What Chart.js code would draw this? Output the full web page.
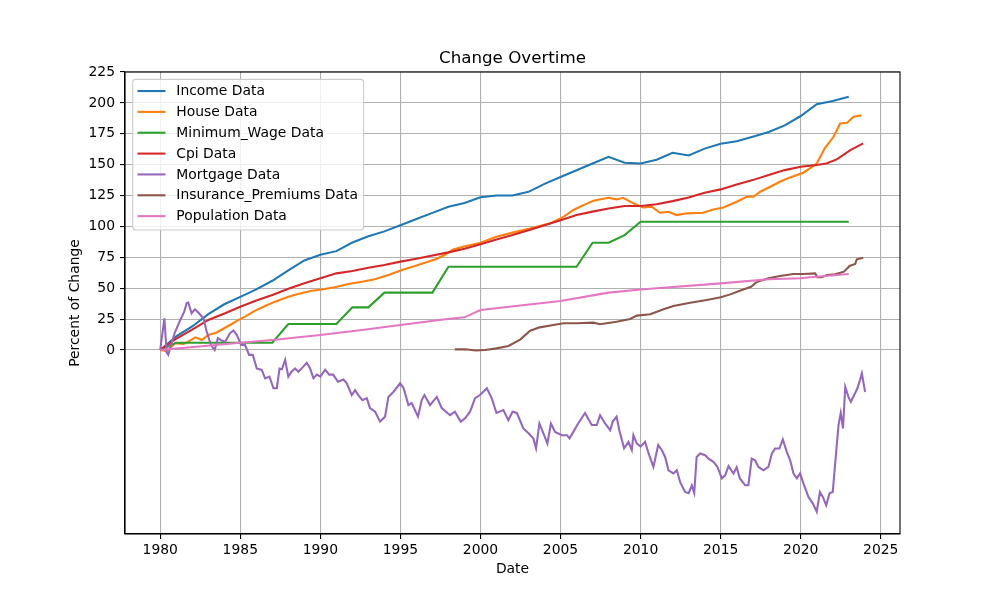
<!DOCTYPE html>
<html>
<head>
<meta charset="utf-8">
<script src="https://cdn.jsdelivr.net/npm/chart.js@4.4.1/dist/chart.umd.min.js"></script>
<style>
  html, body { margin: 0; padding: 0; background: #fff; }
</style>
</head>
<body>
<canvas id="chart" width="1000" height="600"></canvas>
<script>
const FONT = '"DejaVu Sans", "Liberation Sans", sans-serif';

const yearTicks = [1980, 1985, 1990, 1995, 2000, 2005, 2010, 2015, 2020, 2025];
const valueTicks = [0, 25, 50, 75, 100, 125, 150, 175, 200, 225];

// yearly series
const incomeYears = [1980, 1981, 1982, 1983, 1984, 1985, 1986, 1987, 1988, 1989,
  1990, 1991, 1992, 1993, 1994, 1995, 1996, 1997, 1998, 1999,
  2000, 2001, 2002, 2003, 2004, 2005, 2006, 2007, 2008, 2009,
  2010, 2011, 2012, 2013, 2014, 2015, 2016, 2017, 2018, 2019,
  2020, 2021, 2022, 2023];
const incomeValues = [0, 11, 19, 29, 37, 43, 49, 56, 64.5, 72.5,
  77, 80, 87, 92, 96, 101, 106, 111, 116, 119,
  123.6, 125, 125, 128, 134.5, 140, 145.5, 151, 156.4, 151.5,
  151, 154, 159.6, 157.5, 163, 167, 169, 172.6, 176.4, 181.8,
  189.4, 198.9, 201.5, 205];

const minWageYears = incomeYears;
const minWageValues = [0, 5.9, 5.9, 5.9, 5.9, 5.9, 5.9, 5.9, 21, 21,
  21, 21, 34.5, 34.5, 46.4, 46.4, 46.4, 46.4, 67.4, 67.4,
  67.4, 67.4, 67.4, 67.4, 67.4, 67.4, 67.4, 86.8, 86.8, 93,
  103.8, 103.8, 103.8, 103.8, 103.8, 103.8, 103.8, 103.8, 103.8, 103.8,
  103.8, 103.8, 103.8, 103.8];

const houseYears = [1980, 1980.4, 1980.93, 1981.45, 1981.76, 1982.2, 1982.6, 1983, 1983.5, 1984.05,
  1984.47, 1984.9, 1985.3, 1985.9, 1986.55, 1987.17, 1988, 1988.6, 1989.46, 1990.08,
  1990.9, 1991.75, 1992.6, 1993.4, 1994.25, 1995.1, 1996.1, 1997.2, 1997.75, 1998.3,
  1998.9, 1999.87, 2001, 2002.06, 2003.1, 2004.35, 2005.2, 2005.8, 2006.43, 2007.05,
  2008, 2008.5, 2008.92, 2009.55, 2010.17, 2010.7, 2011.2, 2011.74, 2012.25, 2012.9,
  2013.9, 2014.55, 2015.17, 2016, 2016.63, 2017.05, 2017.47, 2018.1, 2018.7, 2019.33,
  2020.17, 2020.7, 2021, 2021.5, 2022.05, 2022.46, 2022.9, 2023.3, 2023.8];
const houseValues = [0, -1, 5.4, 4.9, 6.7, 10.2, 8, 12.1, 14, 18,
  21, 24.3, 27, 31.6, 35.6, 39.1, 43, 45.3, 48, 49,
  50.7, 53.4, 55.3, 57.2, 60.7, 64.7, 68.8, 73.4, 76.9, 81.4,
  83.6, 86.3, 91.7, 95.2, 98.4, 102.5, 107.9, 113.3, 117.3, 120.8,
  123.2, 121.9, 123.2, 118.7, 115.4, 116, 111.1, 111.9, 109.2, 110.6,
  111.1, 113.8, 115.4, 120, 124, 124, 128.1, 132.1, 136.2, 139.7,
  143.5, 148.3, 151, 163.2, 172.6, 183.4, 183.9, 188.8, 190.1];

const cpiYears = [1980, 1980.93, 1981.97, 1983, 1984.05, 1985, 1986, 1987, 1988, 1989,
  1990, 1991, 1992, 1993, 1994, 1995, 1996, 1997, 1998, 1999,
  2000, 2001, 2002, 2003, 2004, 2005, 2006, 2007, 2008, 2009,
  2010, 2011, 2012, 2013, 2014, 2015, 2016, 2017, 2018, 2019,
  2020, 2021, 2021.6, 2022.25, 2023.1, 2023.9];
const cpiValues = [0, 8.6, 16.2, 24.3, 29.7, 35, 40, 44.5, 49.5, 54,
  58, 62, 64, 66.5, 68.8, 71.5, 73.8, 76.5, 79, 82,
  85.5, 89.5, 93, 97, 101, 105, 109.2, 112, 114.6, 116.5,
  116.5, 117.9, 120.5, 123.5, 127.3, 130, 134, 137.5, 141.6, 145.6,
  148.3, 149.7, 151, 154.3, 161.8, 167.2];

const mortgageYears = [1980, 1980.26, 1980.4, 1980.5, 1980.9, 1981.24, 1981.5, 1981.65, 1981.75, 1981.96, 1982.17,
  1982.42, 1982.7, 1982.9, 1983.17, 1983.4, 1983.6, 1983.84, 1984.05, 1984.36, 1984.57,
  1984.78, 1985.05, 1985.3, 1985.55, 1985.78, 1986.03, 1986.34, 1986.55, 1986.82, 1987.07,
  1987.28, 1987.45, 1987.6, 1987.8, 1988, 1988.2, 1988.42, 1988.63, 1988.94, 1989.15,
  1989.36, 1989.57, 1989.78, 1990, 1990.3, 1990.55, 1990.8, 1991.1, 1991.44, 1991.65,
  1991.96, 1992.17, 1992.37, 1992.63, 1992.9, 1993.1, 1993.42, 1993.73, 1994.04, 1994.25,
  1994.56, 1994.98, 1995.2, 1995.5, 1995.7, 1996.1, 1996.33, 1996.5, 1996.85, 1997.27,
  1997.58, 1998.1, 1998.4, 1998.77, 1999.04, 1999.35, 1999.66, 1999.97, 2000.4, 2000.7,
  2001, 2001.43, 2001.74, 2002, 2002.27, 2002.68, 2003, 2003.3, 2003.47, 2003.68,
  2003.93, 2004.18, 2004.4, 2004.66, 2005.08, 2005.4, 2005.56, 2005.8, 2006.1, 2006.53,
  2006.95, 2007.26, 2007.47, 2007.78, 2008.1, 2008.26, 2008.5, 2008.67, 2008.97, 2009.24,
  2009.45, 2009.55, 2009.76, 2010, 2010.28, 2010.5, 2010.8, 2011.1, 2011.32, 2011.53,
  2011.74, 2012.05, 2012.26, 2012.47, 2012.78, 2013, 2013.2, 2013.35, 2013.5, 2013.72,
  2014.03, 2014.24, 2014.55, 2014.8, 2015.07, 2015.28, 2015.49, 2015.8, 2016, 2016.2,
  2016.53, 2016.73, 2016.94, 2017.15, 2017.36, 2017.67, 2017.98, 2018.2, 2018.4, 2018.67,
  2018.88, 2019.13, 2019.34, 2019.55, 2019.76, 2019.96, 2020.17, 2020.48, 2020.76, 2021,
  2021.2, 2021.38, 2021.59, 2021.8, 2022, 2022.15, 2022.36, 2022.5, 2022.64, 2022.78,
  2022.98, 2023.13, 2023.34, 2023.54, 2023.7, 2023.82, 2024.02];
const mortgageValues = [0, 25.6, -2, -4, 13.7, 24, 31, 38, 38.4, 29.7, 33,
  29.7, 25.6, 14.9, 4, 0, 9.5, 7.6, 6.7, 13.5, 15.7,
  12.2, 4, 4, -4, -4, -15, -16.2, -23, -21.6, -31,
  -31, -15, -15.6, -8, -21.6, -17.6, -15, -17.6, -13.5, -10.3,
  -15, -23, -20, -21.6, -16, -20, -20, -25.7, -24, -27,
  -36.5, -32.5, -36.5, -40.6, -39, -47, -50, -58, -54, -38,
  -34, -27, -31, -44.6, -43, -54, -40.6, -36.5, -44.6, -38,
  -47, -52.8, -50, -58, -55.3, -50, -39, -36.5, -31, -39,
  -51, -48.7, -56.8, -50, -51, -63.5, -67.5, -71.6, -79.6, -59.5,
  -67.5, -75.7, -59.5, -66.3, -69, -69, -71.6, -66.3, -59.5, -51,
  -60.8, -60.8, -52.8, -59.5, -65, -58, -54, -65, -79.6, -74.4,
  -81, -69, -75.7, -78.3, -74.4, -83.8, -94.7, -77, -81, -86.6,
  -97.4, -100, -97.4, -107, -115, -116, -109.6, -115.8, -86.6, -83.8,
  -85.2, -88, -90.6, -94.7, -104, -101.5, -94, -100, -95, -104,
  -109.6, -109.6, -88, -89.3, -94.7, -97.4, -94.7, -83.8, -79.8, -79.8,
  -72.5, -82.5, -89.3, -100, -104, -100, -108, -119, -124.4, -131,
  -115, -119, -125.8, -116, -115, -92, -60.8, -51, -63.5, -29.8,
  -38, -42, -36.5, -31, -24.4, -19, -34];

const insuranceYears = [1998.4, 1999.04, 1999.7, 2000.3, 2001, 2001.75, 2002.5, 2003.1, 2003.7, 2004.55,
  2005.2, 2006, 2007.05, 2007.47, 2008.5, 2009.35, 2009.76, 2010.6, 2011.43, 2012.05,
  2013.1, 2014.13, 2015, 2015.6, 2016.2, 2016.9, 2017.2, 2017.5, 2018, 2018.7,
  2019.55, 2020.17, 2020.9, 2021.05, 2021.3, 2021.63, 2022.15, 2022.7, 2023.05, 2023.4,
  2023.5, 2023.9];
const insuranceValues = [0.5, 0.5, -0.5, 0, 1.3, 3.2, 8.6, 15.6, 18.3, 20.2,
  21.6, 21.6, 22.1, 20.8, 22.9, 25.1, 27.8, 28.9, 32.9, 35.6,
  38.3, 40.5, 42.6, 45, 48, 51.2, 54.5, 56.1, 58, 59.9,
  61.5, 61.5, 62, 58.8, 58.8, 60.7, 61.2, 63.4, 68, 69.6,
  73.4, 74.7];

const populationYears = [1980, 1985, 1987, 1990, 1992.6, 1995, 1997.8, 1999, 2000, 2005,
  2008, 2010, 2015, 2018, 2020, 2020.6, 2023];
const populationValues = [0, 5.9, 8.1, 12.1, 16.2, 20.2, 24.8, 26.4, 32.4, 39.6,
  46.4, 49, 53.9, 57.2, 58, 58.8, 61.5];

const seriesLabels = ['Income Data', 'House Data', 'Minimum_Wage Data', 'Cpi Data',
  'Mortgage Data', 'Insurance_Premiums Data', 'Population Data'];
const seriesColors = ['#1f77b4', '#ff7f0e', '#2ca02c', '#d62728', '#9467bd', '#8c564b', '#e377c2'];
const seriesData = [
  [incomeYears, incomeValues],
  [houseYears, houseValues],
  [minWageYears, minWageValues],
  [cpiYears, cpiValues],
  [mortgageYears, mortgageValues],
  [insuranceYears, insuranceValues],
  [populationYears, populationValues]
];

// axes frame drawn over the lines, like matplotlib spines
const framePlugin = {
  id: 'frame',
  afterDatasetsDraw(chart) {
    const { ctx, chartArea: a } = chart;
    ctx.save();
    ctx.strokeStyle = '#000';
    ctx.lineWidth = 1.1;
    ctx.strokeRect(a.left, a.top, a.right - a.left, a.bottom - a.top);
    ctx.restore();
  }
};

// legend box inside the plot, top left
const boxLegend = {
  id: 'boxLegend',
  afterDraw(chart) {
    const { ctx, chartArea: a } = chart;
    const sets = chart.data.datasets;
    ctx.save();
    ctx.font = '13.9px ' + FONT;
    let maxW = 0;
    sets.forEach(s => { maxW = Math.max(maxW, ctx.measureText(s.label).width); });
    const left = a.left + 7.7, top = a.top + 7.3;
    const x0 = left + 4.8, x1 = x0 + 28, textX = x1 + 10.8;
    const w = textX - left + maxW + 5.6, h = 150.7;
    ctx.beginPath();
    ctx.roundRect(left, top, w, h, 3);
    ctx.fillStyle = 'rgba(255,255,255,0.8)';
    ctx.fill();
    ctx.strokeStyle = '#cccccc';
    ctx.lineWidth = 1.1;
    ctx.stroke();
    sets.forEach((s, i) => {
      const y = top + 11.7 + i * 20.85;
      ctx.strokeStyle = s.borderColor;
      ctx.lineWidth = 2.08;
      ctx.beginPath();
      ctx.moveTo(x0, y);
      ctx.lineTo(x1, y);
      ctx.stroke();
      ctx.fillStyle = '#000';
      ctx.textBaseline = 'middle';
      ctx.fillText(s.label, textX, y + 0.5);
    });
    ctx.restore();
  }
};

const datasets = seriesData.map(([xs, ys], i) => ({
  label: seriesLabels[i],
  data: xs.map((x, j) => ({ x: x, y: ys[j] })),
  borderColor: seriesColors[i],
  backgroundColor: seriesColors[i],
  borderWidth: 2.08,
  pointRadius: 0,
  tension: 0,
  fill: false,
  order: seriesLabels.length - i
}));

new Chart(document.getElementById('chart').getContext('2d'), {
  type: 'line',
  data: { datasets: datasets },
  options: {
    responsive: false,
    animation: false,
    devicePixelRatio: 1,
    layout: { padding: { left: 0, right: 100, top: 0, bottom: 0 } },
    plugins: {
      legend: { display: false },
      tooltip: { enabled: false },
      title: {
        display: true,
        text: 'Change Overtime',
        fullSize: false,
        color: '#000',
        font: { family: FONT, size: 16.7, weight: 'normal', lineHeight: 1.2 },
        padding: { top: 49, bottom: 3 }
      }
    },
    scales: {
      x: {
        type: 'linear',
        min: 1977.8,
        max: 2026.2,
        afterBuildTicks: s => { s.ticks = yearTicks.map(v => ({ value: v })); },
        afterFit: s => { s.height = 66; },
        ticks: {
          callback: v => String(v),
          color: '#000',
          font: { family: FONT, size: 13.9 },
          padding: 3,
          maxRotation: 0,
          autoSkip: false
        },
        grid: { color: '#b0b0b0', lineWidth: 1.1, tickColor: '#000', tickLength: 5 },
        border: { color: '#000', width: 1.1 },
        title: {
          display: true,
          text: 'Date',
          color: '#000',
          font: { family: FONT, size: 13.9, lineHeight: 1.2 },
          padding: { top: 0, bottom: 22.7 }
        }
      },
      y: {
        min: -149,
        max: 225,
        afterBuildTicks: s => { s.ticks = valueTicks.map(v => ({ value: v })); },
        afterFit: s => { s.width = 125; },
        ticks: {
          callback: v => String(v),
          color: '#000',
          font: { family: FONT, size: 13.9 },
          padding: 5,
          autoSkip: false
        },
        grid: { color: '#b0b0b0', lineWidth: 1.1, tickColor: '#000', tickLength: 5 },
        border: { color: '#000', width: 1.1 },
        title: {
          display: true,
          text: 'Percent of Change',
          color: '#000',
          font: { family: FONT, size: 13.9, lineHeight: 1.2 },
          padding: { top: 66.7, bottom: 0 }
        }
      }
    }
  },
  plugins: [framePlugin, boxLegend]
});
</script>
</body>
</html>
